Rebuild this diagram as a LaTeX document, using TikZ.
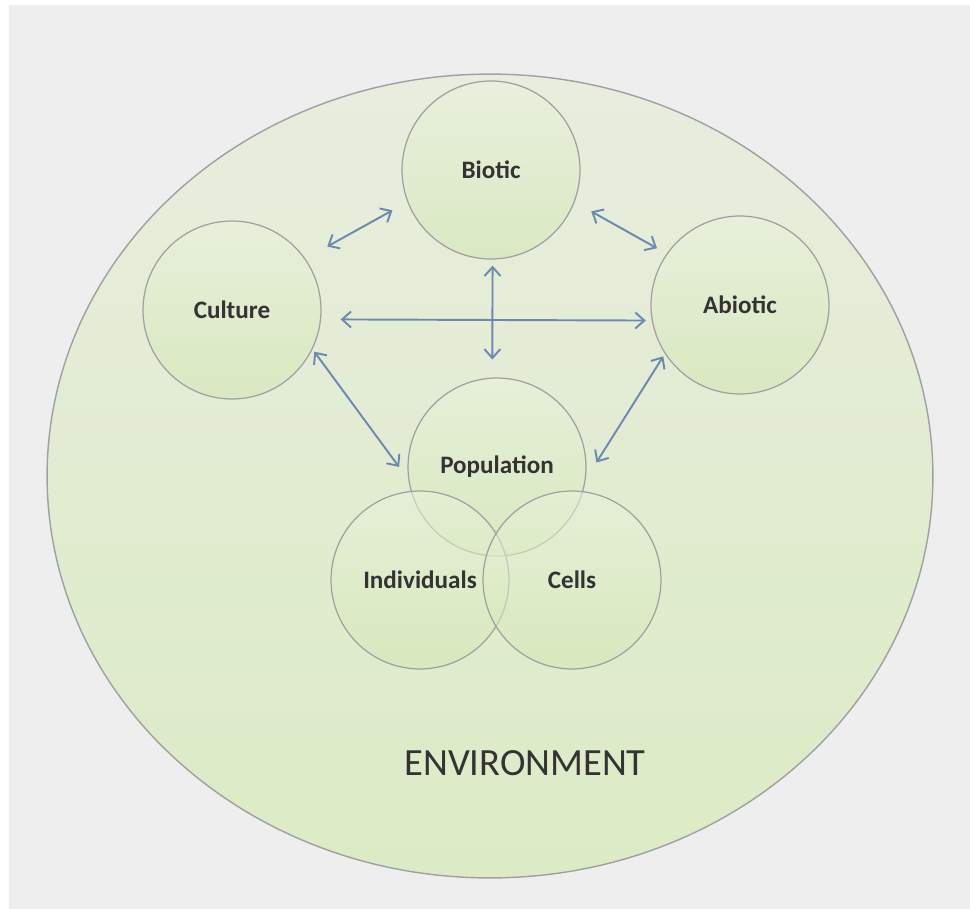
\documentclass[tikz,border=0pt]{standalone}
\usepackage{fontspec}
\setmainfont{Carlito}
\usetikzlibrary{arrows.meta}
\definecolor{bgGray}{HTML}{EEEEEE}
\definecolor{ringGray}{HTML}{A0A0A0}
\definecolor{envTop}{HTML}{E8EDDE}
\definecolor{envBottom}{HTML}{DCEBC5}
\definecolor{sphereTop}{HTML}{EAF2DC}
\definecolor{sphereBottom}{HTML}{D2E7B2}
\definecolor{arrowBlue}{HTML}{6B8AB0}
\definecolor{labelGray}{HTML}{333333}

\begin{document}
\begin{tikzpicture}[x=0.02cm,y=-0.02cm,
		sphere/.style={circle,draw=ringGray,line width=0.7pt,minimum size=3.56cm,inner sep=0pt,
			top color=sphereTop,bottom color=sphereBottom,fill opacity=0.55,draw opacity=1,text opacity=1,
			text=labelGray,font=\bfseries\fontsize{14.3}{16}\selectfont},
		link/.style={{Straight Barb[length=1.8mm,width=3.2mm]}-{Straight Barb[length=1.8mm,width=3.2mm]},
			draw=arrowBlue,line width=1.1pt}]
		% backdrop and environment
		\fill[white] (0,0) rectangle (970,909);
		\fill[bgGray] (9,5) rectangle (970,909);
		\draw[draw=ringGray,line width=0.8pt,top color=envTop,bottom color=envBottom] (490,476) ellipse [x radius=8.86cm,y radius=8.04cm];
		\node[text=labelGray,font=\fontsize{21.9}{26}\selectfont] (env) at (525,763) {ENVIRONMENT};
		% the six spheres
		\node[sphere] (biotic) at (491,170) {Biotic};
		\node[sphere] (culture) at (232,310) {Culture};
		\node[sphere] (abiotic) at (740,305) {Abiotic};
		\node[sphere] (population) at (497,467) {Population};
		\node[sphere] (individuals) at (420,580) {Individuals};
		\node[sphere] (cells) at (572,580) {Cells};
		% interactions
		\draw[link,shorten <=0.5cm,shorten >=0.34cm] (culture.35) -- (biotic.201);
		\draw[link,shorten <=0.38cm,shorten >=0.22cm] (biotic.-21) -- (abiotic.145);
		\draw[link,shorten <=0.39cm,shorten >=0.12cm] (culture.-6) -- (abiotic.190);
		\draw[link,shorten <=0.12cm,shorten >=0.36cm] (biotic.-89) -- (population.93);
		\draw[link,shorten <=0.06cm,shorten >=0.31cm] (culture.-26) -- (population.188);
		\draw[link,shorten <=0.06cm,shorten >=0.4cm] (abiotic.213) -- (population.-8);
	\end{tikzpicture}
\end{document}
